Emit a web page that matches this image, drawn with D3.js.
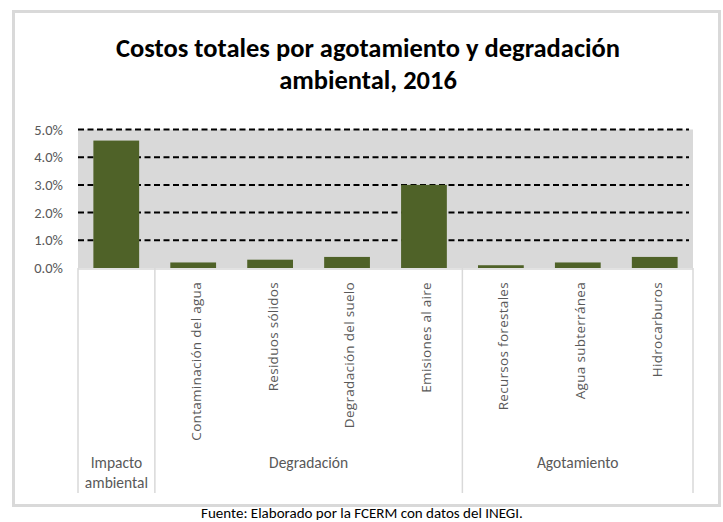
<!DOCTYPE html>
<html>
<head>
<meta charset="utf-8">
<script src="https://cdn.jsdelivr.net/npm/d3@7"></script>
<style>
	html, body { margin: 0; padding: 0; background: #fff; }
	svg { display: block; }
</style>
</head>
<body>
<div id="chart"></div>
<script>
(function () {

	'use strict';

	// data
	let categories = ['Impacto ambiental', 'Contaminación del agua', 'Residuos sólidos', 'Degradación del suelo',
		'Emisiones al aire', 'Recursos forestales', 'Agua subterránea', 'Hidrocarburos'];
	let values = [0.046, 0.002, 0.003, 0.004, 0.030, 0.001, 0.002, 0.004];
	let groupNames = ['Impacto ambiental', 'Degradación', 'Agotamiento'];
	let groupOf = [0, 1, 1, 1, 1, 2, 2, 2];
	let yTicks = [0, 0.01, 0.02, 0.03, 0.04, 0.05];

	let titleLines = ['Costos totales por agotamiento y degradación', 'ambiental, 2016'];
	let source = 'Fuente: Elaborado por la FCERM con datos del INEGI.';

	// layout
	let width = 723, height = 522;
	let plot = { left: 78, right: 693, top: 129.5, bottom: 268 };
	let axisBottom = 493;
	let barColor = '#4f6228';
	let textGrey = '#595959';
	let lineGrey = '#d9d9d9';
	let calibri = 'Carlito, Calibri, Lato, sans-serif';
	let segoe = '"Open Sans", "Noto Sans", sans-serif';

	let svg = d3.select('#chart').append('svg')
		.attr('width', width)
		.attr('height', height);

	// chart frame
	svg.append('rect')
		.attr('x', 13.5).attr('y', 11.5)
		.attr('width', 706).attr('height', 494)
		.attr('fill', '#fff')
		.attr('stroke', lineGrey)
		.attr('stroke-width', 3);

	// title
	svg.append('text')
		.attr('x', 368)
		.attr('text-anchor', 'middle')
		.attr('font-family', calibri)
		.attr('font-weight', 'bold')
		.attr('font-size', 26.5)
		.attr('fill', '#000')
		.selectAll('tspan')
		.data(titleLines)
		.enter().append('tspan')
		.attr('x', 368)
		.attr('y', function (d, i) { return 57 + i * 32; })
		.text(function (d) { return d; });

	// scales
	let x = d3.scaleBand()
		.domain(categories)
		.range([plot.left, plot.right])
		.paddingInner(0.405)
		.paddingOuter(0.2);

	let step = (plot.right - plot.left) / categories.length;

	let y = d3.scaleLinear()
		.domain([0, 0.05])
		.range([plot.bottom, plot.top]);

	// plot background
	svg.append('rect')
		.attr('x', plot.left).attr('y', plot.top)
		.attr('width', plot.right - plot.left)
		.attr('height', plot.bottom - plot.top)
		.attr('fill', '#d9d9d9');

	// gridlines
	svg.append('g')
		.selectAll('line')
		.data(yTicks.filter(function (d) { return d > 0; }))
		.enter().append('line')
		.attr('x1', plot.left).attr('x2', plot.right - 4)
		.attr('y1', function (d) { return y(d); })
		.attr('y2', function (d) { return y(d); })
		.attr('stroke', '#000')
		.attr('stroke-width', 2)
		.attr('stroke-dasharray', '6,3.5');

	// y axis labels
	let yAxis = d3.axisLeft(y)
		.tickValues(yTicks)
		.tickFormat(d3.format('.1%'))
		.tickSize(0)
		.tickPadding(15);

	svg.append('g')
		.attr('transform', 'translate(' + plot.left + ',0)')
		.call(yAxis)
		.call(function (g) { g.select('.domain').remove(); })
		.selectAll('text')
		.attr('font-family', calibri)
		.attr('font-size', 14.5)
		.attr('fill', textGrey);

	// bars
	svg.append('g')
		.selectAll('rect')
		.data(categories)
		.enter().append('rect')
		.attr('x', function (d) { return x(d); })
		.attr('width', x.bandwidth())
		.attr('y', function (d, i) { return y(values[i]); })
		.attr('height', function (d, i) { return y(0) - y(values[i]); })
		.attr('fill', barColor);

	// ****************** category axis ***************************

	let axisG = svg.append('g');

	axisG.append('line')
		.attr('x1', plot.left).attr('x2', plot.right)
		.attr('y1', plot.bottom + 1).attr('y2', plot.bottom + 1)
		.attr('stroke', lineGrey)
		.attr('stroke-width', 1.5);

	// group boundaries
	let bounds = [0];
	groupOf.forEach(function (g, i) {
		if (i > 0 && g !== groupOf[i - 1]) bounds.push(i);
	});
	bounds.push(categories.length);

	axisG.selectAll('line.sep')
		.data(bounds)
		.enter().append('line')
		.attr('class', 'sep')
		.attr('x1', function (d) { return plot.left + d * step; })
		.attr('x2', function (d) { return plot.left + d * step; })
		.attr('y1', plot.bottom).attr('y2', axisBottom)
		.attr('stroke', lineGrey)
		.attr('stroke-width', 1.5);

	// rotated inner labels (first category only has the group label)
	axisG.selectAll('text.cat')
		.data(categories.filter(function (d, i) { return groupNames.indexOf(d) < 0; }))
		.enter().append('text')
		.attr('class', 'cat')
		.attr('transform', function (d) {
			return 'translate(' + (x(d) + x.bandwidth() / 2) + ',' + 282 + ') rotate(-90)';
		})
		.attr('dy', '0.55em')
		.attr('text-anchor', 'end')
		.attr('font-family', segoe)
		.attr('font-size', 13.5)
		.attr('letter-spacing', 0.3)
		.attr('fill', textGrey)
		.text(function (d) { return d; });

	// group labels
	let groupLabels = axisG.selectAll('text.group')
		.data(groupNames)
		.enter().append('text')
		.attr('class', 'group')
		.attr('text-anchor', 'middle')
		.attr('font-family', calibri)
		.attr('font-size', 15.5)
		.attr('fill', textGrey);

	groupLabels.each(function (d, gi) {
		let cx = plot.left + (bounds[gi] + bounds[gi + 1]) / 2 * step;
		let words = d.split(' ');
		let self = d3.select(this);
		words.forEach(function (w, wi) {
			self.append('tspan')
				.attr('x', cx)
				.attr('y', 468 + wi * 19.5)
				.text(w);
		});
	});

	// source note
	svg.append('text')
		.attr('x', 362)
		.attr('y', 518)
		.attr('text-anchor', 'middle')
		.attr('font-family', calibri)
		.attr('font-size', 15)
		.attr('fill', '#000')
		.text(source);

})();
</script>
</body>
</html>
